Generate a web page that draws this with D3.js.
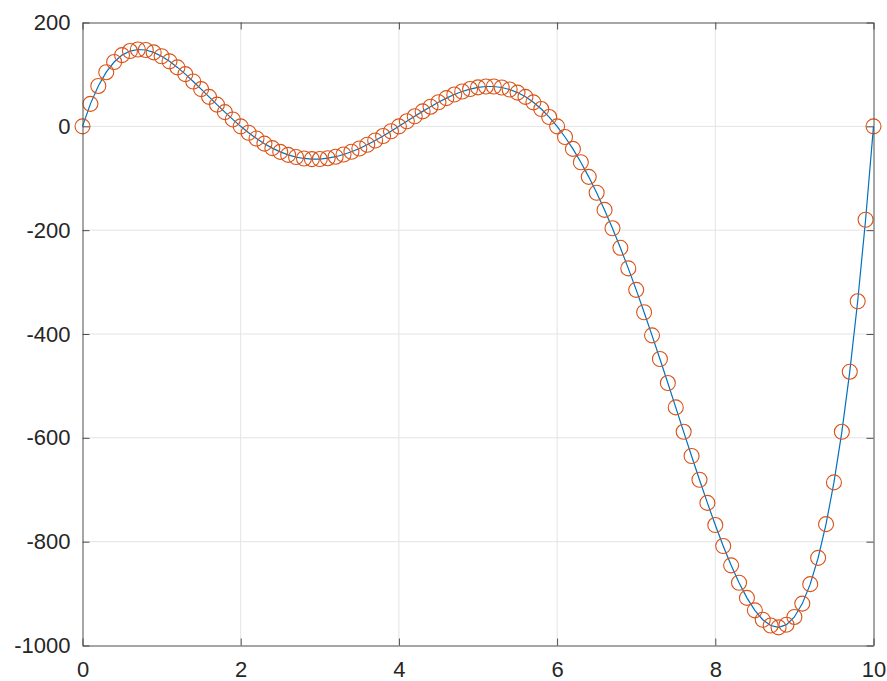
<!DOCTYPE html>
<html>
<head>
<meta charset="utf-8">
<script src="https://cdn.jsdelivr.net/npm/d3@7"></script>
<style>
  body { margin: 0; background: #fff; }
  .tick text { font-family: Arial, "Liberation Sans", sans-serif; }
</style>
</head>
<body>
<div id="plot"></div>
<script>
var svgWidth = 887;
var svgHeight = 681;

var margin = {
  top: 22.5,
  right: 13.5,
  bottom: 35.5,
  left: 82.5
};

var width = svgWidth - margin.left - margin.right;
var height = svgHeight - margin.top - margin.bottom;

// x samples 0..10 step 0.1
var xValues = [
  0.0, 0.1, 0.2, 0.3, 0.4, 0.5, 0.6, 0.7, 0.8, 0.9,
  1.0, 1.1, 1.2, 1.3, 1.4, 1.5, 1.6, 1.7, 1.8, 1.9,
  2.0, 2.1, 2.2, 2.3, 2.4, 2.5, 2.6, 2.7, 2.8, 2.9,
  3.0, 3.1, 3.2, 3.3, 3.4, 3.5, 3.6, 3.7, 3.8, 3.9,
  4.0, 4.1, 4.2, 4.3, 4.4, 4.5, 4.6, 4.7, 4.8, 4.9,
  5.0, 5.1, 5.2, 5.3, 5.4, 5.5, 5.6, 5.7, 5.8, 5.9,
  6.0, 6.1, 6.2, 6.3, 6.4, 6.5, 6.6, 6.7, 6.8, 6.9,
  7.0, 7.1, 7.2, 7.3, 7.4, 7.5, 7.6, 7.7, 7.8, 7.9,
  8.0, 8.1, 8.2, 8.3, 8.4, 8.5, 8.6, 8.7, 8.8, 8.9,
  9.0, 9.1, 9.2, 9.3, 9.4, 9.5, 9.6, 9.7, 9.8, 9.9,
  10.0
];

// y values
var yValues = [
  0, 43.3, 77.8, 104.3, 123.9, 137.2, 145.0, 148.0, 147.0, 142.4,
  135.0, 125.2, 113.5, 100.5, 86.4, 71.7, 56.8, 41.9, 27.3, 13.3,
  0, -12.3, -23.5, -33.4, -42.0, -49.2, -55.0, -59.2, -61.9, -63.2,
  -63.0, -61.4, -58.5, -54.3, -49.0, -42.7, -35.4, -27.3, -18.7, -9.5,
  0, 9.7, 19.3, 28.8, 37.8, 46.4, 54.3, 61.2, 67.1, 71.8,
  75.0, 76.7, 76.7, 74.8, 70.9, 65.0, 56.8, 46.2, 33.3, 17.9,
  0, -20.5, -43.5, -69.2, -97.3, -128.0, -161.0, -196.4, -234.0, -273.6,
  -315.0, -358.1, -402.6, -448.2, -494.5, -541.4, -588.4, -635.0, -680.8, -725.3,
  -768.0, -808.3, -845.6, -879.2, -908.3, -932.3, -950.4, -961.6, -965.1, -959.9,
  -945.0, -919.3, -881.8, -831.2, -766.3, -685.8, -588.4, -472.6, -337.0, -180.0,
  0
];

var xTicks = [0, 2, 4, 6, 8, 10];
var yTicks = [200, 0, -200, -400, -600, -800, -1000];

var data = xValues.map(function(x, i) { return { x: x, y: yValues[i] }; });

var svg = d3.select("#plot")
  .append("svg")
  .attr("width", svgWidth)
  .attr("height", svgHeight);

var chartGroup = svg.append("g")
  .attr("transform", `translate(${margin.left}, ${margin.top})`);

var xLinearScale = d3.scaleLinear()
  .domain([0, 10])
  .range([0, width]);

var yLinearScale = d3.scaleLinear()
  .domain([-1000, 200])
  .range([height, 0]);

// grid lines
chartGroup.append("g")
  .selectAll("line")
  .data(xTicks.slice(1, -1))
  .enter()
  .append("line")
  .attr("x1", d => xLinearScale(d))
  .attr("x2", d => xLinearScale(d))
  .attr("y1", 0)
  .attr("y2", height)
  .attr("stroke", "#e3e3e3")
  .attr("stroke-width", 1);

chartGroup.append("g")
  .selectAll("line")
  .data(yTicks.slice(1, -1))
  .enter()
  .append("line")
  .attr("x1", 0)
  .attr("x2", width)
  .attr("y1", d => yLinearScale(d))
  .attr("y2", d => yLinearScale(d))
  .attr("stroke", "#e3e3e3")
  .attr("stroke-width", 1);

// line
var line = d3.line()
  .x(d => xLinearScale(d.x))
  .y(d => yLinearScale(d.y));

chartGroup.append("path")
  .datum(data)
  .attr("d", line)
  .attr("fill", "none")
  .attr("stroke", "#0072BD")
  .attr("stroke-width", 1.2);

// circle markers
chartGroup.append("g")
  .selectAll("circle")
  .data(data)
  .enter()
  .append("circle")
  .attr("cx", d => xLinearScale(d.x))
  .attr("cy", d => yLinearScale(d.y))
  .attr("r", 7.5)
  .attr("fill", "none")
  .attr("stroke", "#D95319")
  .attr("stroke-width", 1.1);

// axes, ticks pointing inward on all four sides
var axisColor = "#4d4d4d";
var textColor = "#262626";
// plain hyphen minus and no thousands separator, like the original
var plainFormat = d => String(d);

var xAxis = d3.axisBottom(xLinearScale).tickValues(xTicks).tickSizeInner(-7).tickSizeOuter(0).tickPadding(16).tickFormat(plainFormat);
var xAxisTop = d3.axisTop(xLinearScale).tickValues(xTicks).tickSizeInner(-7).tickSizeOuter(0).tickFormat("");
var yAxis = d3.axisLeft(yLinearScale).tickValues(yTicks).tickSizeInner(-7).tickSizeOuter(0).tickPadding(12).tickFormat(plainFormat);
var yAxisRight = d3.axisRight(yLinearScale).tickValues(yTicks).tickSizeInner(-7).tickSizeOuter(0).tickFormat("");

var gx = chartGroup.append("g")
  .attr("transform", `translate(0, ${height})`)
  .call(xAxis);
var gxt = chartGroup.append("g").call(xAxisTop);
var gy = chartGroup.append("g").call(yAxis);
var gyr = chartGroup.append("g")
  .attr("transform", `translate(${width}, 0)`)
  .call(yAxisRight);

[gx, gxt, gy, gyr].forEach(function(g) {
  g.select(".domain").attr("stroke", axisColor);
  g.selectAll(".tick line").attr("stroke", axisColor);
  g.selectAll(".tick text")
    .attr("fill", textColor)
    .style("font-size", "22px");
});

gx.selectAll(".tick text").attr("dy", "0.71em");
</script>
</body>
</html>
